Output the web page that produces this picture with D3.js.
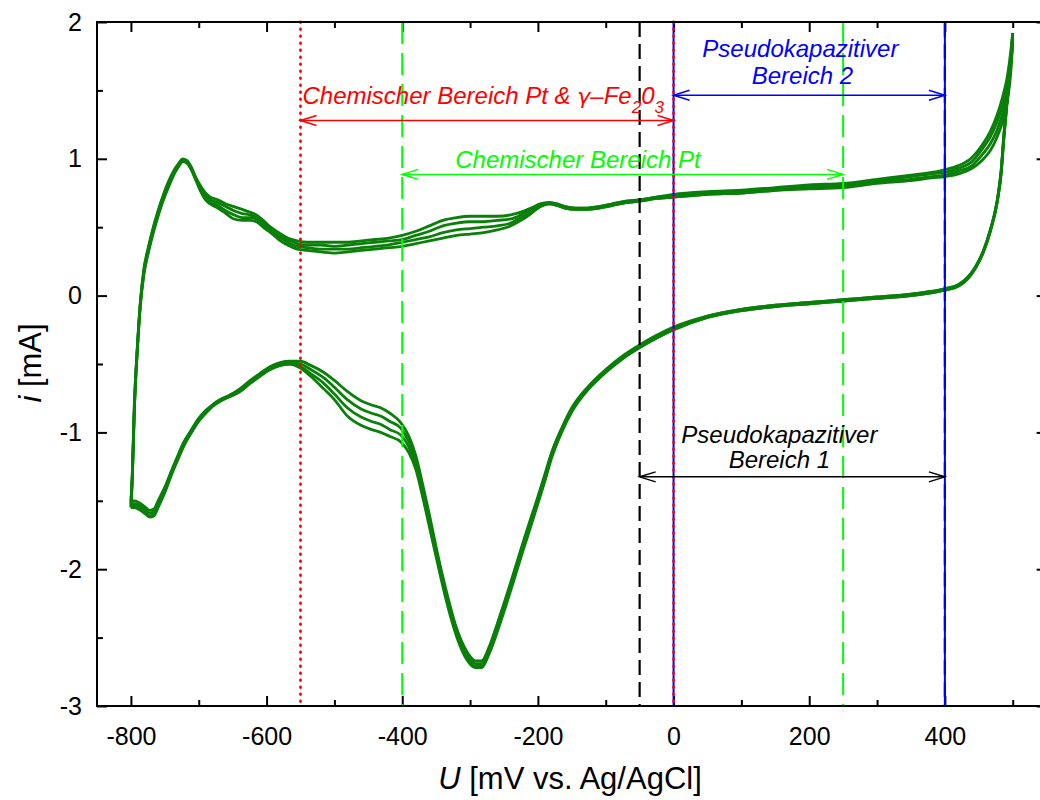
<!DOCTYPE html>
<html>
<head>
<meta charset="utf-8">
<script src="https://cdn.jsdelivr.net/npm/d3@7"></script>
<style>
body { margin: 0; background: #fff; }
text { font-family: "Liberation Sans", Arial, sans-serif; }
</style>
</head>
<body>
<svg id="chart" width="1040" height="800"></svg>
<script>
// potential grid of the anodic (forward) sweep, mV vs. Ag/AgCl
var anodicU = [-800, -798, -795, -790, -786, -781, -774, -767, -760, -752, -744, -736, -729, -724, -718,
    -711, -704, -697, -690, -683, -672, -660, -648, -636, -625, -615, -605, -594, -582, -569, -555, -540,
    -520, -500, -480, -460, -440, -420, -400, -380, -360, -340, -320, -300, -280, -260, -240, -225, -210,
    -197, -184, -172, -160, -145, -127, -110, -90, -70, -50, -25, 0, 50, 100, 150, 200, 250, 300, 350,
    380, 400, 420, 440, 455, 467, 477, 485, 492, 497, 500];

// anodic current in mA, one array per cycle
var anodicCycle1 = [-1.50, -1.30, -0.80, -0.33, -0.04, 0.19, 0.36, 0.50, 0.62, 0.74, 0.84, 0.92, 0.97, 1.00, 0.99,
    0.94, 0.86, 0.80, 0.75, 0.72, 0.70, 0.67, 0.65, 0.63, 0.61, 0.59, 0.55, 0.50, 0.46, 0.42, 0.40, 0.39,
    0.39, 0.39, 0.39, 0.40, 0.41, 0.42, 0.44, 0.47, 0.51, 0.55, 0.57, 0.58, 0.58, 0.58, 0.59, 0.61, 0.64,
    0.67, 0.68, 0.67, 0.65, 0.64, 0.64, 0.65, 0.67, 0.69, 0.70, 0.72, 0.74, 0.76, 0.77, 0.79, 0.81, 0.82, 0.85, 0.88,
    0.90, 0.92, 0.95, 1.01, 1.10, 1.20, 1.32, 1.45, 1.60, 1.78, 1.92];
var anodicCycle2 = [-1.52, -1.32, -0.82, -0.34, -0.05, 0.18, 0.35, 0.49, 0.61, 0.73, 0.83, 0.91, 0.96, 0.99, 0.98,
    0.93, 0.85, 0.79, 0.73, 0.70, 0.68, 0.65, 0.62, 0.60, 0.59, 0.57, 0.53, 0.49, 0.44, 0.41, 0.38, 0.37,
    0.37, 0.36, 0.37, 0.38, 0.39, 0.40, 0.41, 0.44, 0.47, 0.51, 0.53, 0.54, 0.54, 0.55, 0.56, 0.59, 0.63,
    0.66, 0.68, 0.67, 0.65, 0.64, 0.64, 0.65, 0.67, 0.69, 0.70, 0.72, 0.73, 0.75, 0.76, 0.78, 0.80, 0.81, 0.84, 0.87,
    0.89, 0.90, 0.93, 0.98, 1.07, 1.16, 1.27, 1.39, 1.54, 1.72, 1.90];
var anodicCycle3 = [-1.54, -1.34, -0.84, -0.35, -0.06, 0.16, 0.33, 0.47, 0.59, 0.71, 0.81, 0.90, 0.95, 0.98, 0.98,
    0.93, 0.85, 0.77, 0.71, 0.68, 0.66, 0.62, 0.59, 0.57, 0.57, 0.56, 0.52, 0.47, 0.43, 0.39, 0.36, 0.35,
    0.34, 0.34, 0.34, 0.35, 0.36, 0.37, 0.39, 0.41, 0.43, 0.46, 0.48, 0.49, 0.50, 0.51, 0.53, 0.57, 0.61,
    0.65, 0.67, 0.66, 0.64, 0.63, 0.63, 0.64, 0.66, 0.68, 0.69, 0.71, 0.72, 0.74, 0.75, 0.77, 0.79, 0.80, 0.83, 0.85,
    0.87, 0.88, 0.91, 0.95, 1.03, 1.11, 1.21, 1.33, 1.48, 1.67, 1.87];
var anodicCycle4 = [-1.55, -1.35, -0.85, -0.36, -0.07, 0.15, 0.32, 0.46, 0.58, 0.70, 0.80, 0.89, 0.95, 0.98, 0.97,
    0.92, 0.84, 0.76, 0.70, 0.67, 0.64, 0.60, 0.56, 0.55, 0.55, 0.54, 0.50, 0.46, 0.41, 0.37, 0.34, 0.33,
    0.32, 0.31, 0.32, 0.33, 0.34, 0.35, 0.36, 0.38, 0.40, 0.42, 0.44, 0.45, 0.46, 0.48, 0.51, 0.55, 0.60,
    0.65, 0.67, 0.66, 0.64, 0.63, 0.63, 0.64, 0.66, 0.68, 0.69, 0.71, 0.72, 0.74, 0.75, 0.77, 0.78, 0.79, 0.82, 0.84,
    0.86, 0.87, 0.89, 0.93, 0.99, 1.06, 1.16, 1.27, 1.42, 1.62, 1.85];

// potential grid of the cathodic (backward) sweep, listed in rising order
var cathodicU = [-800, -795, -786, -778, -772, -766, -760, -750, -741, -730, -722, -712, -702, -690, -680,
    -668, -655, -639, -624, -610, -595, -580, -565, -550, -535, -516, -500, -481, -460, -445, -432, -418,
    -402, -390, -380, -369, -360, -350, -334, -320, -305, -292, -283, -272, -260, -248, -236, -221, -210,
    -200, -190, -180, -165, -150, -125, -100, -75, -50, -25, 0, 50, 100, 150, 200, 250, 300, 350, 380,
    400, 420, 433, 445, 457, 467, 477, 483, 487, 491, 494, 497, 500];

var cathodicCycle1 = [-1.50, -1.50, -1.52, -1.55, -1.57, -1.56, -1.50, -1.40, -1.29, -1.16, -1.07, -0.99, -0.91, -0.84, -0.80,
    -0.76, -0.73, -0.68, -0.62, -0.57, -0.52, -0.49, -0.48, -0.48, -0.51, -0.56, -0.62, -0.70, -0.77, -0.80, -0.82, -0.86,
    -0.93, -1.03, -1.17, -1.40, -1.60, -1.84, -2.18, -2.43, -2.60, -2.67, -2.67, -2.57, -2.40, -2.22, -2.03, -1.79, -1.62,
    -1.47, -1.31, -1.15, -0.97, -0.82, -0.66, -0.54, -0.44, -0.36, -0.29, -0.23, -0.15, -0.10, -0.07, -0.05, -0.03, -0.01, 0.01, 0.03,
    0.05, 0.08, 0.13, 0.21, 0.33, 0.48, 0.69, 0.92, 1.18, 1.40, 1.55, 1.72, 1.92];
var cathodicCycle2 = [-1.52, -1.52, -1.54, -1.57, -1.59, -1.58, -1.52, -1.41, -1.30, -1.17, -1.08, -1.00, -0.92, -0.85, -0.80,
    -0.76, -0.73, -0.69, -0.63, -0.58, -0.53, -0.50, -0.49, -0.50, -0.54, -0.60, -0.67, -0.76, -0.83, -0.86, -0.88, -0.92,
    -0.97, -1.07, -1.20, -1.43, -1.63, -1.86, -2.20, -2.45, -2.62, -2.69, -2.69, -2.59, -2.42, -2.24, -2.05, -1.81, -1.64,
    -1.49, -1.33, -1.16, -0.98, -0.83, -0.67, -0.55, -0.45, -0.37, -0.30, -0.24, -0.15, -0.10, -0.07, -0.05, -0.03, -0.01, 0.01, 0.03,
    0.05, 0.08, 0.13, 0.21, 0.33, 0.48, 0.69, 0.91, 1.17, 1.39, 1.54, 1.71, 1.90];
var cathodicCycle3 = [-1.54, -1.54, -1.56, -1.59, -1.61, -1.60, -1.54, -1.43, -1.31, -1.18, -1.09, -1.01, -0.93, -0.86, -0.81,
    -0.77, -0.74, -0.70, -0.64, -0.59, -0.54, -0.51, -0.50, -0.52, -0.57, -0.64, -0.72, -0.82, -0.89, -0.92, -0.94, -0.98,
    -1.02, -1.11, -1.23, -1.46, -1.66, -1.89, -2.23, -2.47, -2.64, -2.71, -2.71, -2.61, -2.44, -2.26, -2.07, -1.83, -1.66,
    -1.51, -1.35, -1.18, -0.99, -0.84, -0.68, -0.56, -0.46, -0.38, -0.31, -0.25, -0.16, -0.11, -0.08, -0.06, -0.04, -0.02, 0.00, 0.02,
    0.04, 0.07, 0.12, 0.20, 0.32, 0.47, 0.68, 0.90, 1.16, 1.38, 1.53, 1.70, 1.87];
var cathodicCycle4 = [-1.55, -1.55, -1.57, -1.60, -1.62, -1.61, -1.55, -1.44, -1.32, -1.19, -1.10, -1.01, -0.93, -0.86, -0.81,
    -0.77, -0.74, -0.70, -0.64, -0.59, -0.54, -0.51, -0.50, -0.53, -0.59, -0.68, -0.76, -0.88, -0.95, -0.98, -1.00, -1.03,
    -1.07, -1.15, -1.27, -1.49, -1.69, -1.91, -2.25, -2.49, -2.66, -2.72, -2.72, -2.62, -2.46, -2.28, -2.09, -1.85, -1.68,
    -1.52, -1.36, -1.19, -1.00, -0.85, -0.68, -0.56, -0.46, -0.38, -0.31, -0.25, -0.16, -0.11, -0.08, -0.06, -0.04, -0.02, 0.00, 0.02,
    0.04, 0.07, 0.12, 0.20, 0.32, 0.47, 0.68, 0.89, 1.15, 1.37, 1.52, 1.68, 1.85];

// region limits (mV) and the current level (mA) of their arrows
var chemPtFeRange = [-550, 0],   chemPtFeLevel = 1.28;
var chemPtRange = [-400, 250],   chemPtLevel = 0.886;
var pseudo2Range = [0, 400],     pseudo2Level = 1.465;
var pseudo1Range = [-50, 400],   pseudo1Level = -1.325;

// ticks
var xMajorTicks = [-800, -600, -400, -200, 0, 200, 400];
var xMinorTicks = [-700, -500, -300, -100, 100, 300, 500];
var yMajorTicks = [-3, -2, -1, 0, 1, 2];
var yMinorTicks = [-2.5, -1.5, -0.5, 0.5, 1.5];

(function() {
    "use strict";
    var svg = d3.select("#chart"),
        left = 97, top = 22, bottom = 706,
        pxPerMv = 0.6783;

    var x = d3.scaleLinear().domain([-850, 550]).range([left, left + 1400 * pxPerMv]),
        y = d3.scaleLinear().domain([-3, 2]).range([bottom, top]);

    var fmt = function(d) { return String(d); };

    function tidy(g) {
        g.select(".domain").remove();
        g.selectAll(".tick line").attr("stroke", "#000").attr("stroke-width", 2);
        g.selectAll(".tick text").attr("fill", "#000").style("font-size", "25px")
            .style("font-family", "'Liberation Sans', Arial, sans-serif");
    }

    // bottom / top axes, ticks pointing inwards
    svg.append("g").attr("transform", "translate(0," + bottom + ")")
        .call(d3.axisBottom(x).tickValues(xMajorTicks).tickSize(-10).tickPadding(21).tickFormat(fmt))
        .call(tidy);
    svg.append("g").attr("transform", "translate(0," + bottom + ")")
        .call(d3.axisBottom(x).tickValues(xMinorTicks).tickSize(-6).tickFormat(""))
        .call(tidy);
    svg.append("g").attr("transform", "translate(0," + top + ")")
        .call(d3.axisTop(x).tickValues(xMajorTicks).tickSize(-10).tickFormat(""))
        .call(tidy);
    svg.append("g").attr("transform", "translate(0," + top + ")")
        .call(d3.axisTop(x).tickValues(xMinorTicks).tickSize(-6).tickFormat(""))
        .call(tidy);

    // left / right axes
    var rightX = x(550);
    svg.append("g").attr("transform", "translate(" + left + ",0)")
        .call(d3.axisLeft(y).tickValues(yMajorTicks).tickSize(-10).tickPadding(15).tickFormat(fmt))
        .call(tidy);
    svg.append("g").attr("transform", "translate(" + left + ",0)")
        .call(d3.axisLeft(y).tickValues(yMinorTicks).tickSize(-6).tickFormat(""))
        .call(tidy);
    svg.append("g").attr("transform", "translate(" + rightX + ",0)")
        .call(d3.axisRight(y).tickValues(yMajorTicks).tickSize(-10).tickFormat(""))
        .call(tidy);
    svg.append("g").attr("transform", "translate(" + rightX + ",0)")
        .call(d3.axisRight(y).tickValues(yMinorTicks).tickSize(-6).tickFormat(""))
        .call(tidy);

    // the voltammogram, every cycle is drawn as forward + backward branch
    var line = d3.line()
        .x(function(d) { return x(d[0]); })
        .y(function(d) { return y(d[1]); })
        .curve(d3.curveMonotoneX);

    var anodic = [anodicCycle1, anodicCycle2, anodicCycle3, anodicCycle4],
        cathodic = [cathodicCycle1, cathodicCycle2, cathodicCycle3, cathodicCycle4];

    var cv = svg.append("g").attr("fill", "none").attr("stroke", "#0a7f0a")
        .attr("stroke-width", 2.8).attr("stroke-linejoin", "round");
    anodic.forEach(function(cyc) {
        cv.append("path").attr("d", line(anodicU.map(function(u, i) { return [u, cyc[i]]; })));
    });
    cathodic.forEach(function(cyc) {
        cv.append("path").attr("d", line(cathodicU.map(function(u, i) { return [u, cyc[i]]; })));
    });

    // vertical region limits
    function vline(u, color, dash, width, cap) {
        svg.append("line")
            .attr("x1", x(u)).attr("x2", x(u))
            .attr("y1", top).attr("y2", bottom)
            .attr("stroke", color).attr("stroke-width", width || 2)
            .attr("stroke-dasharray", dash)
            .attr("stroke-linecap", cap || "butt");
    }
    pseudo1Range.forEach(function(u) { vline(u, "#000", "15,7", 2.2); });
    pseudo2Range.forEach(function(u) { vline(u, "#0000ff", null, 2); });
    chemPtRange.forEach(function(u) { vline(u, "#00ff00", "22,9"); });
    chemPtFeRange.forEach(function(u) { vline(u, "#ff0000", "0.5,6.5", 2.8, "round"); });

    // double headed arrows with open heads
    function arrow(range, level, color) {
        var x0 = x(range[0]), x1 = x(range[1]), yy = y(level),
            g = svg.append("g").attr("stroke", color).attr("stroke-width", 1.5).attr("fill", "none");
        g.append("line").attr("x1", x0).attr("x2", x1).attr("y1", yy).attr("y2", yy);
        g.append("path").attr("d", "M" + (x0 + 16) + "," + (yy - 5) + "L" + x0 + "," + yy + "L" + (x0 + 16) + "," + (yy + 5));
        g.append("path").attr("d", "M" + (x1 - 16) + "," + (yy - 5) + "L" + x1 + "," + yy + "L" + (x1 - 16) + "," + (yy + 5));
    }
    arrow(chemPtFeRange, chemPtFeLevel, "#ff0000");
    arrow(chemPtRange, chemPtLevel, "#00ff00");
    arrow(pseudo2Range, pseudo2Level, "#0000ff");
    arrow(pseudo1Range, pseudo1Level, "#000");

    function label(u, i, color, anchor) {
        return svg.append("text")
            .attr("x", x(u)).attr("y", y(i))
            .attr("fill", color).attr("text-anchor", anchor || "middle")
            .style("font-size", "24px").style("font-style", "italic");
    }

    label(187, 1.747, "#0000ff").text("Pseudokapazitiver");
    label(190, 1.55, "#0000ff").text("Bereich 2");
    label(156, -1.075, "#000").text("Pseudokapazitiver");
    label(156, -1.257, "#000").text("Bereich 1");
    label(40, 0.936, "#00ff00", "end").text("Chemischer Bereich Pt");

    var red = label(-547, 1.404, "#ff0000", "start");
    red.append("tspan").text("Chemischer Bereich Pt & ");
    red.append("tspan").style("font-family", "'DejaVu Sans', sans-serif").style("font-size", "22px").text("\u03b3");
    red.append("tspan").text("\u2013Fe");
    red.append("tspan").attr("dy", 9).style("font-size", "17px").text("2");
    red.append("tspan").attr("dy", -9).text("0");
    red.append("tspan").attr("dy", 9).style("font-size", "17px").text("3");

    // frame
    svg.append("rect")
        .attr("x", left).attr("y", top)
        .attr("width", rightX - left).attr("height", bottom - top)
        .attr("fill", "none").attr("stroke", "#000").attr("stroke-width", 2);

    // axis titles
    var xt = svg.append("text").attr("x", 570).attr("y", 789)
        .attr("text-anchor", "middle").style("font-size", "31px");
    xt.append("tspan").style("font-style", "italic").text("U");
    xt.append("tspan").text(" [mV vs. Ag/AgCl]");

    var yt = svg.append("text").attr("transform", "translate(41,363) rotate(-90)")
        .attr("text-anchor", "middle").style("font-size", "31px");
    yt.append("tspan").style("font-style", "italic").text("i");
    yt.append("tspan").text(" [mA]");
}());
</script>
</body>
</html>
